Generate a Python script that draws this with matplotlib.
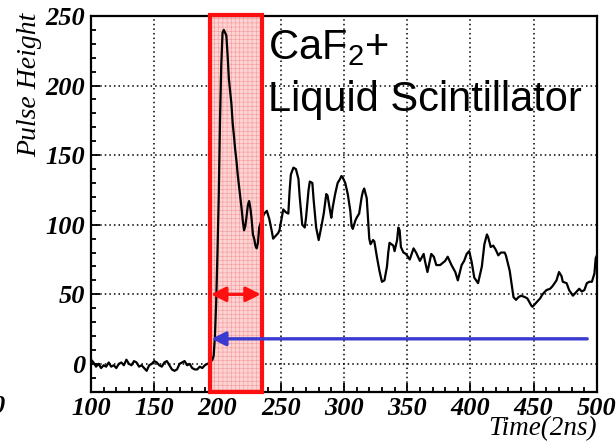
import numpy as np
import matplotlib
matplotlib.use("Agg")
import matplotlib.pyplot as plt
from matplotlib.patches import Rectangle
from matplotlib.ticker import MultipleLocator

# waveform (time in 2ns units, pulse height)
TIME = [100, 102, 104, 106, 108, 110, 112, 114, 116, 118, 120, 122, 124, 126, 128, 130,
        132, 134, 136, 138, 140, 142, 144, 146, 148, 150, 152, 154, 156, 158, 160, 162,
        164, 166, 168, 170, 172, 174, 176, 178, 180, 182, 184, 186, 188, 190, 192, 194,
        196, 197, 198, 199, 200, 201, 202, 203, 204, 205, 206, 207, 208, 209, 210, 211,
        212, 213, 214, 215, 216, 217, 218, 219, 220, 221, 222, 223, 224, 225, 226, 227,
        228, 229, 230, 231, 232, 233, 234, 235, 237, 239, 241, 243, 244, 246, 248, 249,
        251, 252, 254, 256, 257, 258, 260, 262, 264, 265, 267, 269, 270, 272, 273, 275,
        276, 278, 280, 282, 284, 286, 287, 289, 290, 291, 293, 295, 297, 298, 299, 301,
        302, 303, 305, 306, 307, 309, 310, 312, 314, 315, 316, 318, 319, 320, 321, 323,
        324, 326, 328, 330, 332, 334, 335, 336, 339, 340, 342, 343, 344, 345, 347, 349,
        352, 355, 357, 360, 363, 364, 366, 369, 371, 373, 376, 380, 382, 385, 388, 390,
        393, 395, 397, 399, 401, 403, 406, 409, 411, 413, 414, 416, 418, 420, 422, 424,
        427, 428, 431, 434, 436, 438, 440, 443, 445, 448, 449, 452, 455, 457, 460, 463,
        465, 468, 470, 472, 473, 476, 478, 481, 484, 486, 488, 490, 492, 494, 496, 498,
        499, 500]
PULSE = [3, 1, -2, 0, -3, -1, -2, 1, -2, -1, -3, 0, 1, -1, 3, 0,
         -1, 2, 1, -2, -1, -3, -5, -1, 0, 2, 1, -1, -2, 1, 2, -1,
         -4, -5, -4, 0, 1, 2, -1, 0, -3, -4, -4, -2, -3, -1, 0, 1,
         3, 6, 20, 45, 80, 120, 175, 215, 238, 240, 238, 236, 222, 205, 196, 187,
         173, 164, 154, 146, 136, 128, 120, 112, 103, 96, 99, 106, 114, 117, 112, 104,
         93, 90, 85, 83, 87, 98, 101, 104, 108, 110, 104, 95, 90, 92, 94, 96,
         106, 111, 109, 108, 124, 136, 141, 140, 133, 120, 100, 98, 105, 125, 131, 130,
         118, 98, 89, 98, 108, 122, 121, 110, 105, 112, 122, 130, 133, 135, 134, 130,
         126, 122, 110, 99, 97, 103, 105, 108, 120, 124, 126, 119, 105, 90, 86, 89,
         88, 77, 67, 59, 60, 70, 80, 87, 85, 81, 89, 98, 96, 84, 80, 79,
         75, 83, 80, 74, 79, 74, 66, 79, 77, 71, 71, 74, 77, 71, 66, 60,
         71, 74, 79, 81, 73, 62, 58, 70, 86, 93, 91, 84, 85, 82, 78, 80,
         80, 78, 67, 48, 46, 48, 49, 48, 47, 42, 41, 44, 47, 50, 53, 54,
         56, 60, 66, 63, 59, 58, 53, 49, 52, 54, 52, 53, 58, 59, 59, 65,
         76, 78]

WINDOW = (194.4, 235.1)          # red integration window
WIDTH_ARROW_Y = 50
THRESH_Y, THRESH_X = 18, (492.3, 195.3)

SERIF = "Liberation Serif"
SANS = "Liberation Sans"

plt.rcParams["mathtext.fontset"] = "custom"
plt.rcParams["mathtext.rm"] = SANS
plt.rcParams["hatch.linewidth"] = 0.4


def main():
    fig = plt.figure(figsize=(6.16, 4.43), dpi=100)
    ax = fig.add_axes([0.1477, 0.1158, 0.8214, 0.8481])

    ax.plot(TIME, PULSE, color="black", linewidth=1.6, zorder=4)

    ax.set_xlim(100, 500)
    ax.set_ylim(-20, 250)
    ax.xaxis.set_major_locator(MultipleLocator(50))
    ax.xaxis.set_minor_locator(MultipleLocator(10))
    ax.yaxis.set_major_locator(MultipleLocator(50))
    ax.yaxis.set_minor_locator(MultipleLocator(10))
    ax.tick_params(which="both", direction="in", width=1.3)
    ax.tick_params(which="major", length=6.5, pad=4)
    ax.tick_params(which="minor", length=3.6)
    for lab in ax.get_xticklabels() + ax.get_yticklabels():
        lab.set_fontfamily(SERIF)
        lab.set_fontsize(19)
        lab.set_fontweight("bold")
        lab.set_fontstyle("italic")
    for sp in ax.spines.values():
        sp.set_linewidth(1.6)
    ax.grid(True, which="major", color="black", linestyle=(0, (1, 2)), linewidth=1.1)

    # shaded window with red frame
    y0, y1 = -20.3, 250.8
    ax.add_patch(Rectangle((WINDOW[0], y0), WINDOW[1] - WINDOW[0], y1 - y0,
                           facecolor="#fdd3d3", edgecolor="none", zorder=2, clip_on=False))
    ax.add_patch(Rectangle((WINDOW[0], y0), WINDOW[1] - WINDOW[0], y1 - y0,
                           facecolor="none", edgecolor="#f39a9a", hatch="++++", linewidth=0,
                           zorder=2, clip_on=False))
    ax.add_patch(Rectangle((WINDOW[0], y0), WINDOW[1] - WINDOW[0], y1 - y0,
                           facecolor="none", edgecolor="#ff1010", linewidth=3.0,
                           zorder=6, clip_on=False))

    ax.annotate("", xy=(WINDOW[0] + 0.4, WIDTH_ARROW_Y), xytext=(WINDOW[1] - 0.8, WIDTH_ARROW_Y),
                arrowprops=dict(arrowstyle="<|-|>", color="#ff1010", lw=2.4,
                                mutation_scale=22, shrinkA=0, shrinkB=0), zorder=7)
    ax.annotate("", xy=(THRESH_X[1], THRESH_Y), xytext=(THRESH_X[0], THRESH_Y),
                arrowprops=dict(arrowstyle="-|>", color="#3a3ad0", lw=2.4,
                                mutation_scale=21, shrinkA=0, shrinkB=0), zorder=7)

    ax.text(239.8, 218.7, "CaF$_2$+", fontfamily=SANS, fontsize=30, va="baseline", zorder=8)
    ax.text(239.8, 181.5, "Liquid Scintillator", fontfamily=SANS, fontsize=30,
            va="baseline", zorder=8)

    fig.text(30 / 616, 1 - 13 / 443, "Pulse Height", rotation=90, ha="center", va="top",
             fontfamily=SERIF, fontstyle="italic", fontsize=20)
    fig.text(597 / 616, 1 - 435 / 443, "Time(2ns)", ha="right", va="baseline",
             fontfamily=SERIF, fontstyle="italic", fontsize=19.5)
    # clipped label from the neighbouring panel
    fig.text(4 / 616, 1 - 413 / 443, "0", ha="right", va="baseline",
             fontfamily=SERIF, fontstyle="italic", fontweight="bold", fontsize=19)

    fig.savefig("out.png", dpi=100)
    plt.close(fig)


if __name__ == "__main__":
    main()
